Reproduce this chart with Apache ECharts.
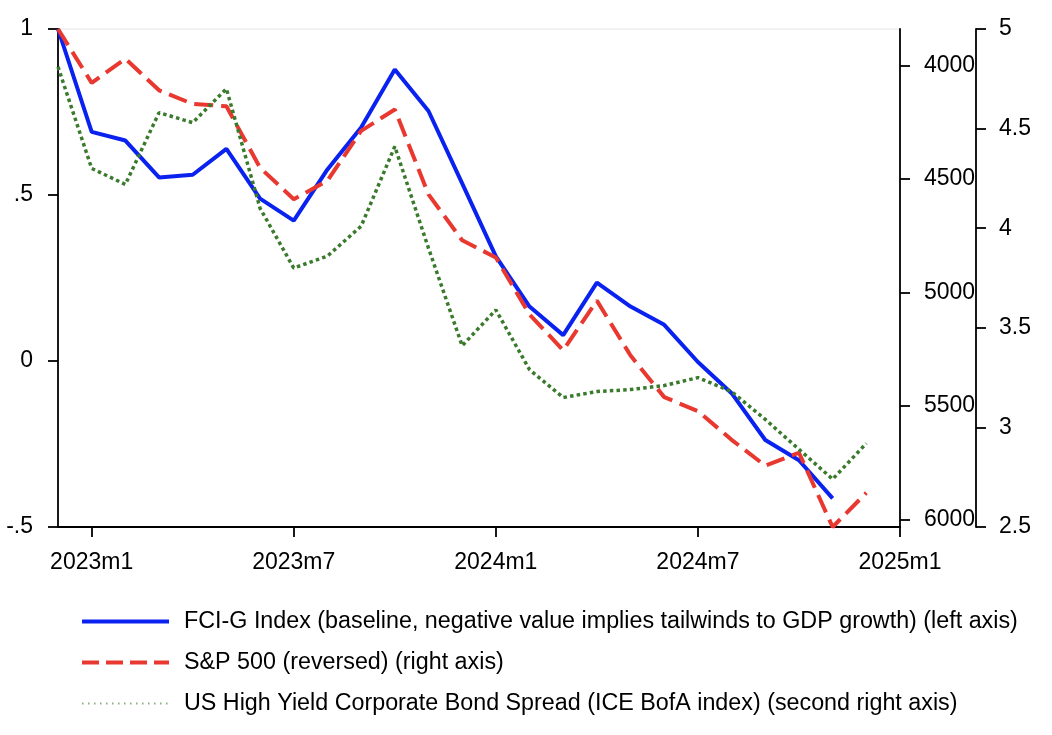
<!DOCTYPE html>
<html>
<head>
<meta charset="utf-8">
<script src="https://cdn.jsdelivr.net/npm/echarts@6/dist/echarts.min.js"></script>
<style>
html,body{margin:0;padding:0;background:#fff;}
#c{width:1052px;height:735px;}
</style>
</head>
<body>
<div id="c"></div>
<script>
var months = ['2022m12','2023m1','2023m2','2023m3','2023m4','2023m5','2023m6','2023m7','2023m8','2023m9','2023m10','2023m11','2023m12',
  '2024m1','2024m2','2024m3','2024m4','2024m5','2024m6','2024m7','2024m8','2024m9','2024m10','2024m11','2024m12','2025m1'];
var fciG = [1.0, 0.69, 0.664, 0.553, 0.561, 0.639, 0.489, 0.423, 0.577, 0.703, 0.878, 0.753, 0.535,
  0.315, 0.164, 0.078, 0.236, 0.164, 0.109, -0.003, -0.097, -0.238, -0.299, -0.414, null, null];
var sp500 = [3839.5, 4076.6, 3970.15, 4109.31, 4169.48, 4179.83, 4450.38, 4588.96, 4507.66, 4288.05, 4193.80, 4567.80, 4769.83,
  4845.65, 5096.27, 5254.35, 5035.69, 5277.51, 5460.48, 5522.30, 5648.40, 5762.48, 5705.45, 6032.38, 5881.63, null];
var hySpread = [4.81, 4.30, 4.22, 4.58, 4.53, 4.70, 4.10, 3.80, 3.86, 4.01, 4.41, 3.90, 3.41,
  3.59, 3.29, 3.15, 3.18, 3.19, 3.21, 3.25, 3.18, 3.04, 2.89, 2.74, 2.92, null];
var spTicks = [4000, 4500, 5000, 5500, 6000];
var names = [
  'FCI-G Index (baseline, negative value implies tailwinds to GDP growth) (left axis)',
  'S&P 500 (reversed) (right axis)',
  'US High Yield Corporate Bond Spread (ICE BofA index) (second right axis)'
];

var FONT = 'Liberation Sans, Arial, Helvetica, sans-serif';
var axisLineStyle = {color: '#000', width: 1.8};
var labelStyle = {color: '#000', fontSize: 23, fontFamily: FONT};
var BLUE = '#0a22f0', RED = '#e8382f', GREEN = '#3a7a2c';

function leftFmt(v) {
  if (v === 0) return '0';
  var s = String(Math.round(v * 100) / 100);
  return s.replace(/^0\./, '.').replace(/^-0\./, '-.');
}
function plainFmt(v) { return String(Math.round(v * 100) / 100); }

var chart = echarts.init(document.getElementById('c'), null, {renderer: 'canvas'});
chart.setOption({
  animation: false,
  backgroundColor: '#fff',
  textStyle: {fontFamily: FONT},
  grid: {left: 58, top: 29, right: 152, bottom: 208, show: true, borderColor: '#e6e6e6', borderWidth: 1},
  legend: {
    orient: 'vertical', left: 75, top: 605,
    itemWidth: 87, itemHeight: 23, itemGap: 18,
    itemStyle: {opacity: 0},
    textStyle: {color: '#000', fontSize: 23.3, fontFamily: FONT, padding: [0, 0, 0, 10]},
    data: [
      {name: names[0], lineStyle: {color: BLUE, width: 4}},
      {name: names[1], lineStyle: {color: RED, width: 4, type: [17, 7]}},
      {name: names[2], lineStyle: {color: GREEN, width: 2, type: [1.5, 4.5], opacity: 0.6}}
    ]
  },
  xAxis: {
    type: 'category', data: months, boundaryGap: false,
    axisLine: {onZero: false, lineStyle: axisLineStyle},
    axisTick: {length: 10, lineStyle: axisLineStyle, interval: function (i) { return i % 6 === 1; }},
    axisLabel: Object.assign({margin: 24, interval: function (i) { return i % 6 === 1; }}, labelStyle),
    splitLine: {show: false}
  },
  yAxis: [
    {
      type: 'value', position: 'left', min: -0.5, max: 1, interval: 0.5,
      axisLine: {show: true, lineStyle: axisLineStyle},
      axisTick: {show: true, length: 10, lineStyle: axisLineStyle},
      axisLabel: Object.assign({margin: 25, formatter: leftFmt}, labelStyle),
      splitLine: {show: false}
    },
    {
      type: 'value', position: 'right', inverse: true, min: 'dataMin', max: 'dataMax',
      axisLine: {show: true, lineStyle: axisLineStyle},
      axisTick: {show: true, length: 10, lineStyle: axisLineStyle, customValues: spTicks},
      axisLabel: Object.assign({margin: 24, customValues: spTicks, formatter: plainFmt}, labelStyle),
      splitLine: {show: false}
    },
    {
      type: 'value', position: 'right', offset: 76, min: 2.5, max: 5, interval: 0.5,
      axisLine: {show: true, lineStyle: axisLineStyle},
      axisTick: {show: true, length: 10, lineStyle: axisLineStyle},
      axisLabel: Object.assign({margin: 23, formatter: plainFmt}, labelStyle),
      splitLine: {show: false}
    }
  ],
  series: [
    {
      name: names[0], type: 'line', yAxisIndex: 0, data: fciG, symbol: 'none',
      lineStyle: {color: BLUE, width: 4}, itemStyle: {color: BLUE}
    },
    {
      name: names[1], type: 'line', yAxisIndex: 1, data: sp500, symbol: 'none',
      lineStyle: {color: RED, width: 4, type: [19, 8]}, itemStyle: {color: RED}
    },
    {
      name: names[2], type: 'line', yAxisIndex: 2, data: hySpread, symbol: 'none',
      lineStyle: {color: GREEN, width: 3.5, type: [3.5, 3.2]}, itemStyle: {color: GREEN}
    }
  ]
});
</script>
</body>
</html>
